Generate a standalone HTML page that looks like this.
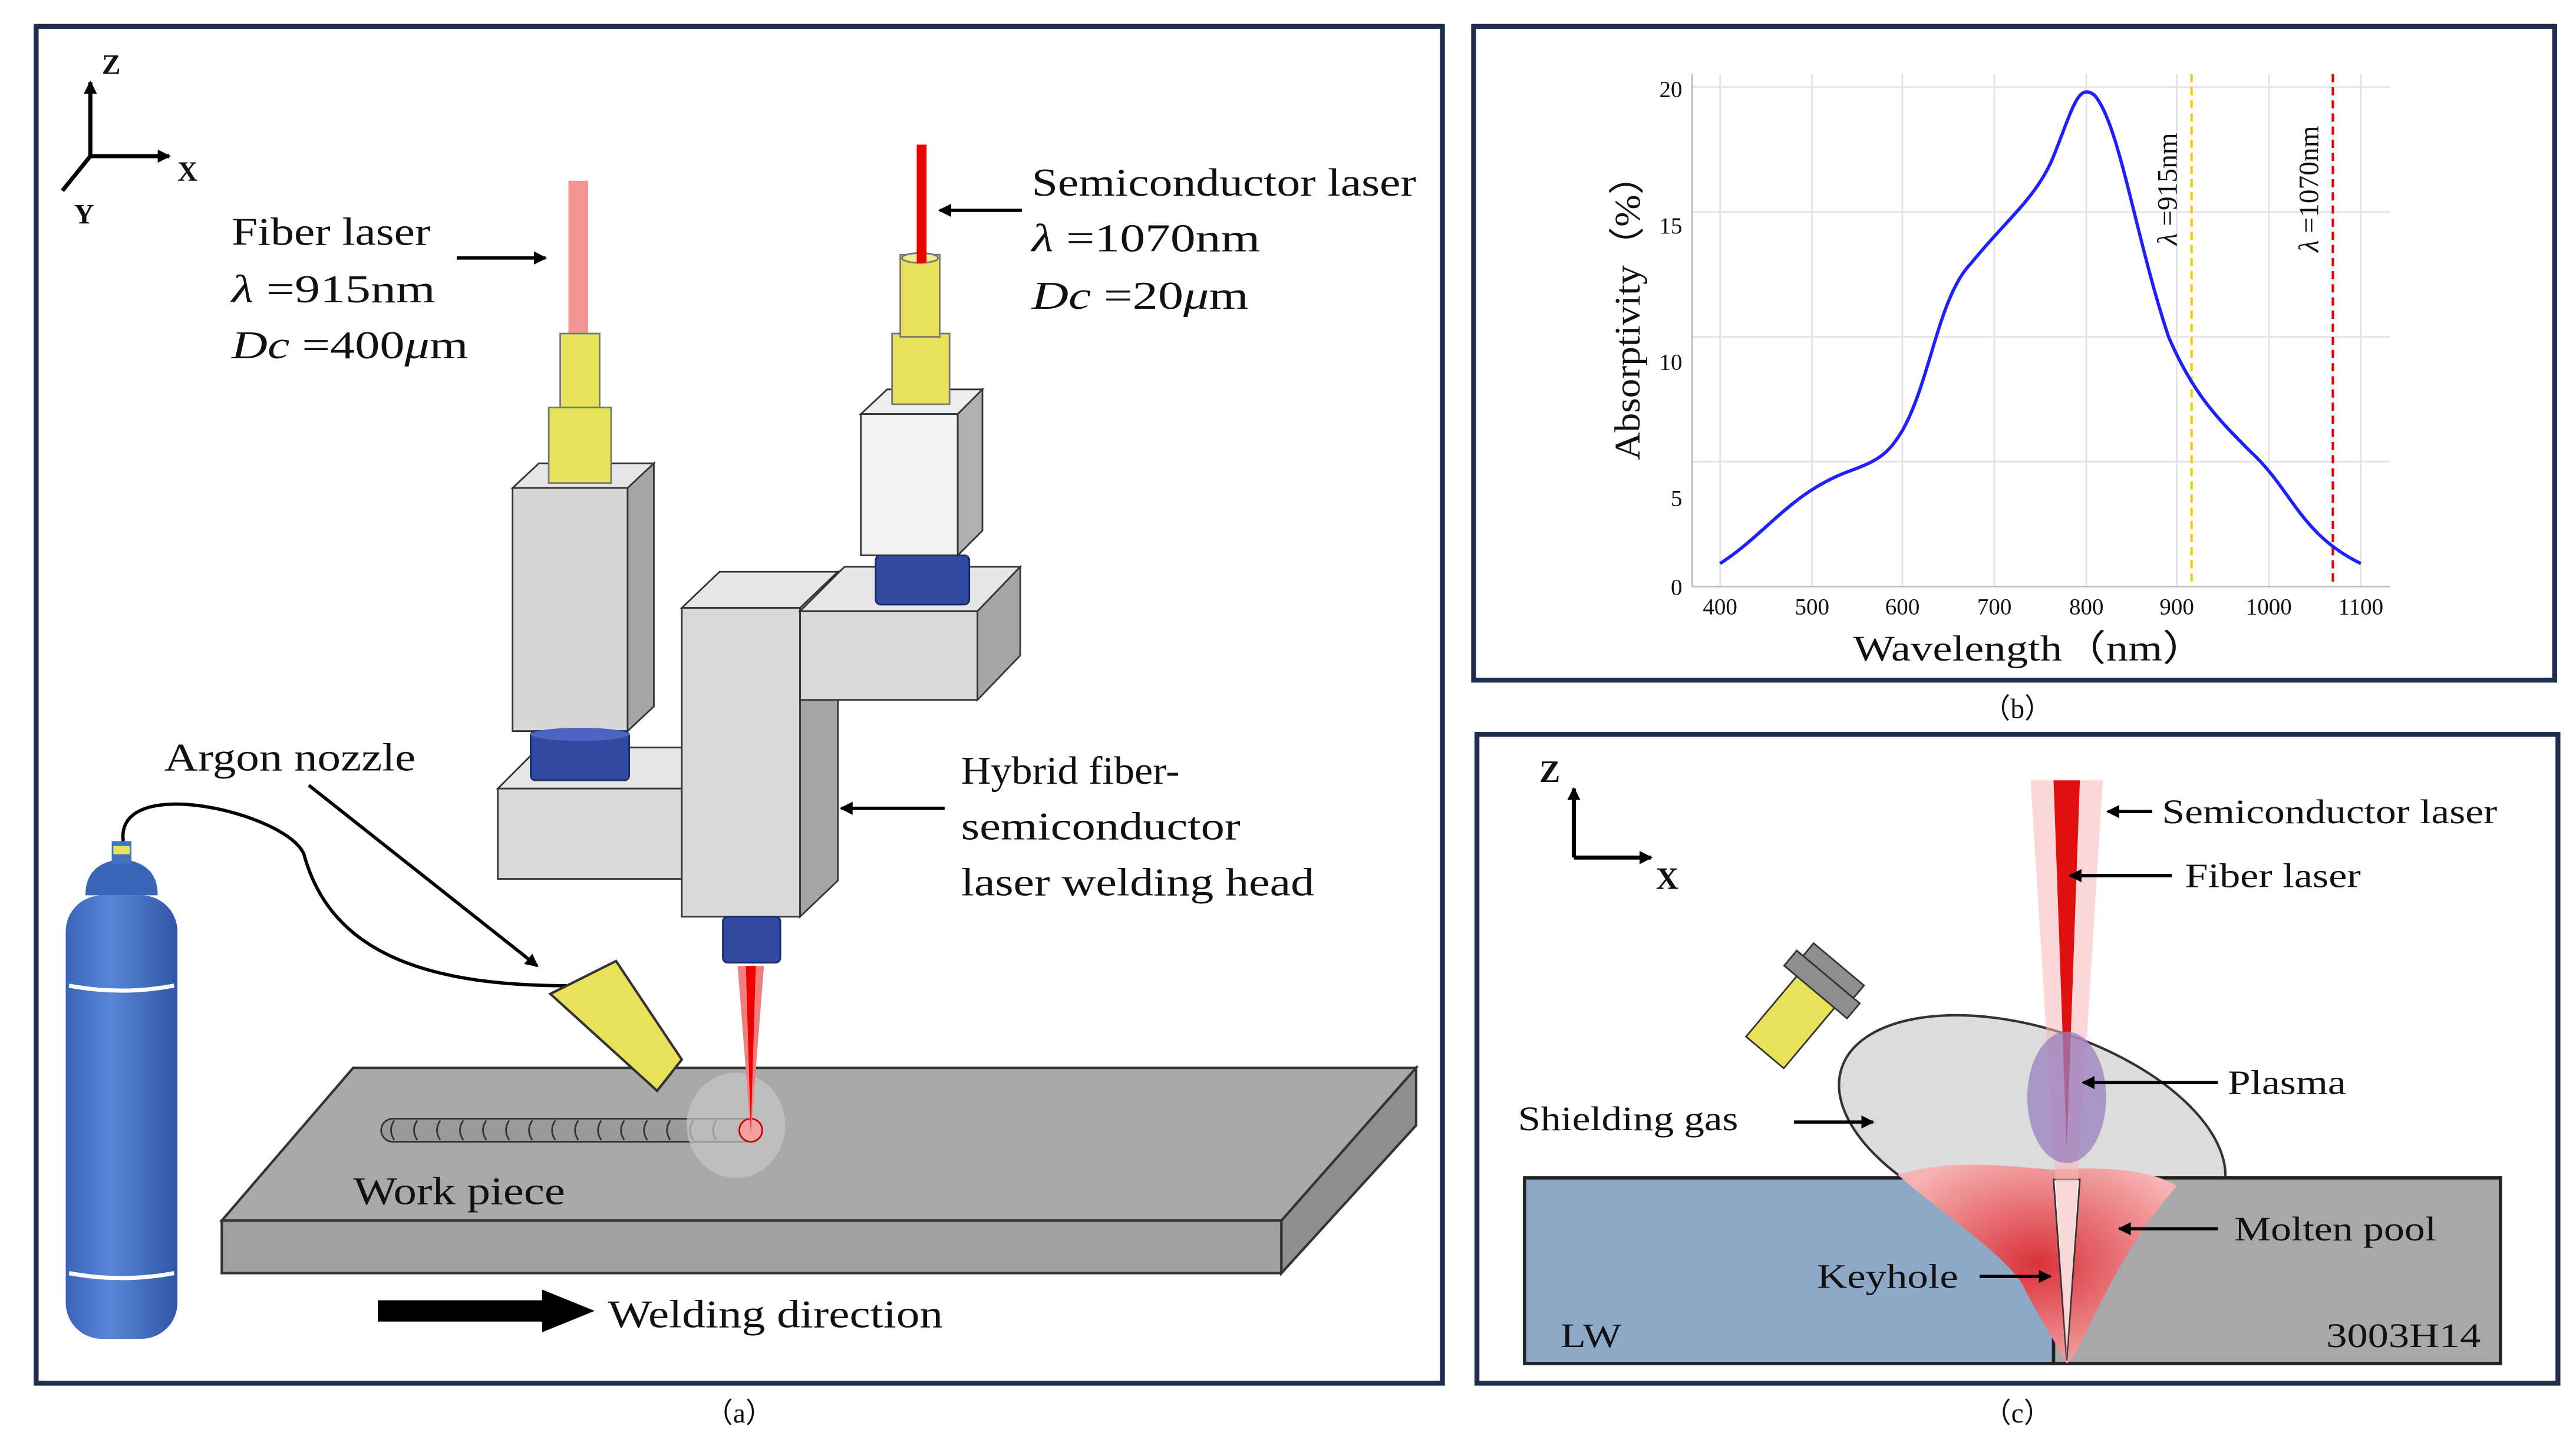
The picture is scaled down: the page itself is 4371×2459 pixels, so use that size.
<!DOCTYPE html>
<html><head><meta charset="utf-8"><style>
html,body{margin:0;padding:0;background:#fff}
svg{display:block}
text{font-family:"Liberation Serif",serif;fill:#111}
</style></head><body>
<svg width="4371" height="2459" viewBox="0 0 1568 882" xmlns="http://www.w3.org/2000/svg">
<defs>
<marker id="ah" markerWidth="8" markerHeight="8" refX="7" refY="4" orient="auto" markerUnits="userSpaceOnUse"><path d="M0,0 L8,4 L0,8 z" fill="#000"/></marker>
<radialGradient id="pool" cx="0.5" cy="0.5" r="0.6"><stop offset="0" stop-color="#d9323a"/><stop offset="1" stop-color="#f7b3b3"/></radialGradient>
<linearGradient id="cyl" x1="0" x2="1"><stop offset="0" stop-color="#3a64b8"/><stop offset="0.4" stop-color="#5a86d8"/><stop offset="1" stop-color="#2f56a6"/></linearGradient>
</defs>
<rect width="1568" height="882" fill="#fff"/>
<rect x="22" y="16" width="856" height="826" fill="none" stroke="#1f2d4f" stroke-width="3"/>
<rect x="897" y="16" width="658" height="398" fill="none" stroke="#1f2d4f" stroke-width="3"/>
<rect x="899" y="447" width="658" height="395" fill="none" stroke="#1f2d4f" stroke-width="3"/>
<text x="450" y="866" font-size="17" text-anchor="middle">（a）</text>
<text x="1228" y="437" font-size="17" text-anchor="middle">（b）</text>
<text x="1228" y="866" font-size="17" text-anchor="middle">（c）</text>

<g stroke="#000" stroke-width="2.5" fill="none">
<line x1="55" y1="95" x2="55" y2="50" marker-end="url(#ah)"/>
<line x1="55" y1="95" x2="103" y2="95" marker-end="url(#ah)"/>
<line x1="55" y1="95" x2="38" y2="116"/>
</g>
<text x="62" y="45" font-size="17" font-weight="bold">Z</text>
<text x="108" y="110" font-size="17" font-weight="bold">X</text>
<text x="45" y="136" font-size="17" font-weight="bold">Y</text>

<polygon points="215,650 862,650 780,743 135,743" fill="#a9a9a9" stroke="#333" stroke-width="1.5"/>
<polygon points="135,743 780,743 780,775 135,775" fill="#a0a0a0" stroke="#333" stroke-width="1.5"/>
<polygon points="780,743 862,650 862,685 780,775" fill="#8e8e8e" stroke="#333" stroke-width="1.5"/>
<rect x="232" y="681" width="228" height="14" rx="7" fill="#9a9a9a" stroke="#333"/>
<g stroke="#333" stroke-width="1" fill="none">
<path d="M240,682 q-4,6 0,12 M254,682 q-4,6 0,12 M268,682 q-4,6 0,12 M282,682 q-4,6 0,12 M296,682 q-4,6 0,12 M310,682 q-4,6 0,12 M324,682 q-4,6 0,12 M338,682 q-4,6 0,12 M352,682 q-4,6 0,12 M366,682 q-4,6 0,12 M380,682 q-4,6 0,12 M394,682 q-4,6 0,12 M408,682 q-4,6 0,12 M422,682 q-4,6 0,12 M436,682 q-4,6 0,12"/>
</g>
<ellipse cx="448" cy="685" rx="30" ry="32" fill="#c8c8c8" opacity="0.7"/>
<circle cx="457" cy="688" r="7" fill="#f4a0a0" stroke="#c00"/>
<text x="215" y="733" font-size="24" textLength="129" lengthAdjust="spacingAndGlyphs">Work piece</text>
<line x1="230" y1="798" x2="335" y2="798" stroke="#000" stroke-width="13"/>
<polygon points="330,785 362,798 330,811" fill="#000"/>
<text x="370" y="808" font-size="24" textLength="204" lengthAdjust="spacingAndGlyphs">Welding direction</text>

<rect x="40" y="545" width="68" height="270" rx="22" fill="url(#cyl)"/>
<path d="M52,545 q0,-20 22,-22 q22,2 22,22z" fill="#3a64b8"/>
<rect x="68" y="512" width="12" height="14" fill="#4472c4"/>
<rect x="69" y="515" width="10" height="5" fill="#e8e25a"/>
<path d="M42,600 q32,6 64,0 M42,775 q32,6 64,0" stroke="#fff" stroke-width="2.5" fill="none"/>
<path d="M75,512 C70,470 175,495 185,520 C200,575 250,600 345,600" stroke="#000" stroke-width="2" fill="none"/>
<polygon points="335,605 375,585 415,645 400,664" fill="#e8e25a" stroke="#333" stroke-width="1.5"/>
<text x="100" y="469" font-size="24" textLength="153" lengthAdjust="spacingAndGlyphs">Argon nozzle</text>
<line x1="188" y1="478" x2="327" y2="588" stroke="#000" stroke-width="2" marker-end="url(#ah)"/>

<polygon points="449,588 465,588 457,690" fill="#f08080"/>
<polygon points="454,588 460,588 457,690" fill="#e00"/>

<polygon points="303,480 328,455 440,455 415,480" fill="#e6e6e6" stroke="#333"/>
<rect x="303" y="480" width="112" height="55" fill="#d9d9d9" stroke="#333"/>
<polygon points="312,297 328,282 398,282 382,297" fill="#e6e6e6" stroke="#333"/>
<rect x="312" y="297" width="70" height="148" fill="#d6d6d6" stroke="#333"/>
<polygon points="382,297 398,282 398,430 382,445" fill="#a6a6a6" stroke="#333"/>
<rect x="323" y="445" width="60" height="30" rx="3" fill="#2f4aa0" stroke="#1a2a66"/>
<ellipse cx="353" cy="447" rx="30" ry="4" fill="#4a64c0"/>
<rect x="346" y="110" width="12" height="95" fill="#f29494"/>
<rect x="341" y="203" width="24" height="47" fill="#e8e25a" stroke="#777"/>
<rect x="334" y="248" width="38" height="46" fill="#e8e25a" stroke="#777"/>
<polygon points="415,370 438,348 510,348 487,370" fill="#e6e6e6" stroke="#333"/>
<rect x="415" y="370" width="72" height="188" fill="#d9d9d9" stroke="#333"/>
<polygon points="487,370 510,348 510,536 487,558" fill="#a6a6a6" stroke="#333"/>
<rect x="440" y="558" width="35" height="28" rx="3" fill="#2f4aa0" stroke="#1a2a66"/>
<polygon points="487,372 514,345 621,345 595,372" fill="#e6e6e6" stroke="#333"/>
<rect x="487" y="372" width="108" height="54" fill="#d9d9d9" stroke="#333"/>
<polygon points="595,372 621,345 621,399 595,426" fill="#a6a6a6" stroke="#333"/>
<rect x="533" y="338" width="57" height="30" rx="3" fill="#2f4aa0" stroke="#1a2a66"/>
<polygon points="524,252 540,237 598,237 583,252" fill="#eee" stroke="#333"/>
<rect x="524" y="252" width="59" height="86" fill="#f2f2f2" stroke="#333"/>
<polygon points="583,252 598,237 598,323 583,338" fill="#b0b0b0" stroke="#333"/>
<rect x="543" y="203" width="35" height="43" fill="#e8e25a" stroke="#777"/>
<rect x="548" y="155" width="24" height="50" fill="#e8e25a" stroke="#777"/>
<ellipse cx="560" cy="157" rx="11" ry="3" fill="#f0ec90" stroke="#777"/>
<rect x="558" y="88" width="6" height="72" fill="#e00"/>

<text x="141" y="149" font-size="24" textLength="121" lengthAdjust="spacingAndGlyphs">Fiber laser</text>
<text x="141" y="184" font-size="24" textLength="124" lengthAdjust="spacingAndGlyphs"><tspan font-style="italic">λ</tspan> =915nm</text>
<text x="141" y="218" font-size="24" textLength="144" lengthAdjust="spacingAndGlyphs"><tspan font-style="italic">Dc</tspan> =400<tspan font-style="italic">μ</tspan>m</text>
<line x1="278" y1="157" x2="332" y2="157" stroke="#000" stroke-width="2" marker-end="url(#ah)"/>
<text x="628" y="119" font-size="24" textLength="234" lengthAdjust="spacingAndGlyphs">Semiconductor laser</text>
<text x="628" y="153" font-size="24" textLength="139" lengthAdjust="spacingAndGlyphs"><tspan font-style="italic">λ</tspan> =1070nm</text>
<text x="628" y="188" font-size="24" textLength="132" lengthAdjust="spacingAndGlyphs"><tspan font-style="italic">Dc</tspan> =20<tspan font-style="italic">μ</tspan>m</text>
<line x1="622" y1="128" x2="572" y2="128" stroke="#000" stroke-width="2" marker-end="url(#ah)"/>
<text x="585" y="477" font-size="24" textLength="133" lengthAdjust="spacingAndGlyphs">Hybrid fiber-</text>
<text x="585" y="511" font-size="24" textLength="170" lengthAdjust="spacingAndGlyphs">semiconductor</text>
<text x="585" y="545" font-size="24" textLength="215" lengthAdjust="spacingAndGlyphs">laser welding head</text>
<line x1="575" y1="492" x2="512" y2="492" stroke="#000" stroke-width="2" marker-end="url(#ah)"/>

<g stroke="#e3e3e3" stroke-width="1">
<line x1="1047" y1="45" x2="1047" y2="357"/><line x1="1103" y1="45" x2="1103" y2="357"/>
<line x1="1158" y1="45" x2="1158" y2="357"/><line x1="1214" y1="45" x2="1214" y2="357"/>
<line x1="1270" y1="45" x2="1270" y2="357"/><line x1="1325" y1="45" x2="1325" y2="357"/>
<line x1="1381" y1="45" x2="1381" y2="357"/><line x1="1437" y1="45" x2="1437" y2="357"/>
<line x1="1030" y1="53" x2="1455" y2="53"/><line x1="1030" y1="129" x2="1455" y2="129"/>
<line x1="1030" y1="205" x2="1455" y2="205"/><line x1="1030" y1="281" x2="1455" y2="281"/>
</g>
<g stroke="#bbb" stroke-width="1" fill="none">
<line x1="1030" y1="45" x2="1030" y2="357"/><line x1="1030" y1="357" x2="1455" y2="357"/>
</g>
<g font-size="14" text-anchor="middle">
<text x="1047" y="374">400</text><text x="1103" y="374">500</text><text x="1158" y="374">600</text><text x="1214" y="374">700</text><text x="1270" y="374">800</text><text x="1325" y="374">900</text><text x="1381" y="374">1000</text><text x="1437" y="374">1100</text>
</g>
<g font-size="14" text-anchor="end">
<text x="1024" y="362">0</text><text x="1024" y="308">5</text><text x="1024" y="225">10</text><text x="1024" y="142">15</text><text x="1024" y="59">20</text>
</g>
<text x="1128" y="402" font-size="22" textLength="215" lengthAdjust="spacingAndGlyphs">Wavelength（nm）</text>
<text transform="translate(998,280) rotate(-90)" font-size="22" textLength="185" lengthAdjust="spacingAndGlyphs">Absorptivity（%）</text>
<line x1="1334" y1="45" x2="1334" y2="357" stroke="#f0d000" stroke-width="1.5" stroke-dasharray="5,3"/>
<line x1="1420" y1="45" x2="1420" y2="357" stroke="#e00" stroke-width="1.5" stroke-dasharray="5,3"/>
<text transform="translate(1325,115) rotate(-90)" font-size="17" text-anchor="middle"><tspan font-style="italic">λ</tspan> =915nm</text>
<text transform="translate(1411,115) rotate(-90)" font-size="17" text-anchor="middle"><tspan font-style="italic">λ</tspan> =1070nm</text>
<path d="M1047,343 C1075,325 1090,300 1125,287 C1145,280 1150,275 1158,262 C1175,232 1180,180 1200,160 C1220,135 1240,120 1250,95 C1262,65 1265,50 1275,58 C1290,75 1300,145 1320,205 C1335,240 1350,255 1370,275 C1395,298 1400,325 1437,343" fill="none" stroke="#2020ff" stroke-width="2"/>

<g stroke="#000" stroke-width="2.5" fill="none">
<line x1="958" y1="522" x2="958" y2="480" marker-end="url(#ah)"/>
<line x1="958" y1="522" x2="1005" y2="522" marker-end="url(#ah)"/>
</g>
<text x="937" y="476" font-size="19" font-weight="bold">Z</text>
<text x="1008" y="541" font-size="19" font-weight="bold">X</text>
<ellipse cx="1237" cy="688" rx="122" ry="62" transform="rotate(18 1237 688)" fill="#dcdcdc" stroke="#333" stroke-width="1.5"/>
<rect x="928" y="717" width="322" height="113" fill="#8ea9c8" stroke="#222" stroke-width="2"/>
<rect x="1250" y="717" width="272" height="113" fill="#a8a8a8" stroke="#222" stroke-width="2"/>
<path d="M1155,715 C1190,705 1220,710 1250,712 C1280,710 1310,712 1325,722 C1305,745 1290,770 1275,800 C1268,815 1262,828 1258,830 C1250,815 1240,800 1230,780 C1215,760 1190,745 1155,715z" fill="url(#pool)"/>
<polygon points="1250,718 1266,718 1258,828" fill="#fff" stroke="#333" stroke-width="1"/>
<polygon points="1236,475 1280,475 1258,828" fill="#f6b8b8" opacity="0.55"/>
<polygon points="1250,475 1266,475 1258,700" fill="#e01010"/>
<ellipse cx="1258" cy="668" rx="24" ry="40" fill="#9a7fc0" opacity="0.75"/>
<g transform="rotate(40 1100 610)">
<rect x="1085" y="600" width="30" height="50" fill="#e8e25a" stroke="#333"/>
<rect x="1075" y="590" width="50" height="12" fill="#8e8e8e" stroke="#333"/>
<rect x="1080" y="580" width="40" height="10" fill="#8e8e8e" stroke="#333"/>
</g>
<g font-size="21">
<text x="1316" y="501" textLength="204" lengthAdjust="spacingAndGlyphs">Semiconductor laser</text>
<text x="1330" y="540" textLength="107" lengthAdjust="spacingAndGlyphs">Fiber laser</text>
<text x="1356" y="666" textLength="72" lengthAdjust="spacingAndGlyphs">Plasma</text>
<text x="924" y="688" textLength="134" lengthAdjust="spacingAndGlyphs">Shielding gas</text>
<text x="1360" y="755" textLength="123" lengthAdjust="spacingAndGlyphs">Molten pool</text>
<text x="1106" y="784" textLength="86" lengthAdjust="spacingAndGlyphs">Keyhole</text>
<text x="950" y="820" textLength="37" lengthAdjust="spacingAndGlyphs">LW</text>
<text x="1416" y="820" textLength="94" lengthAdjust="spacingAndGlyphs">3003H14</text>
</g>
<g stroke="#000" stroke-width="2">
<line x1="1310" y1="494" x2="1283" y2="494" marker-end="url(#ah)"/>
<line x1="1322" y1="533" x2="1260" y2="533" marker-end="url(#ah)"/>
<line x1="1350" y1="659" x2="1268" y2="659" marker-end="url(#ah)"/>
<line x1="1092" y1="683" x2="1140" y2="683" marker-end="url(#ah)"/>
<line x1="1350" y1="748" x2="1290" y2="748" marker-end="url(#ah)"/>
<line x1="1205" y1="777" x2="1248" y2="777" marker-end="url(#ah)"/>
</g>
</svg>
</body></html>
